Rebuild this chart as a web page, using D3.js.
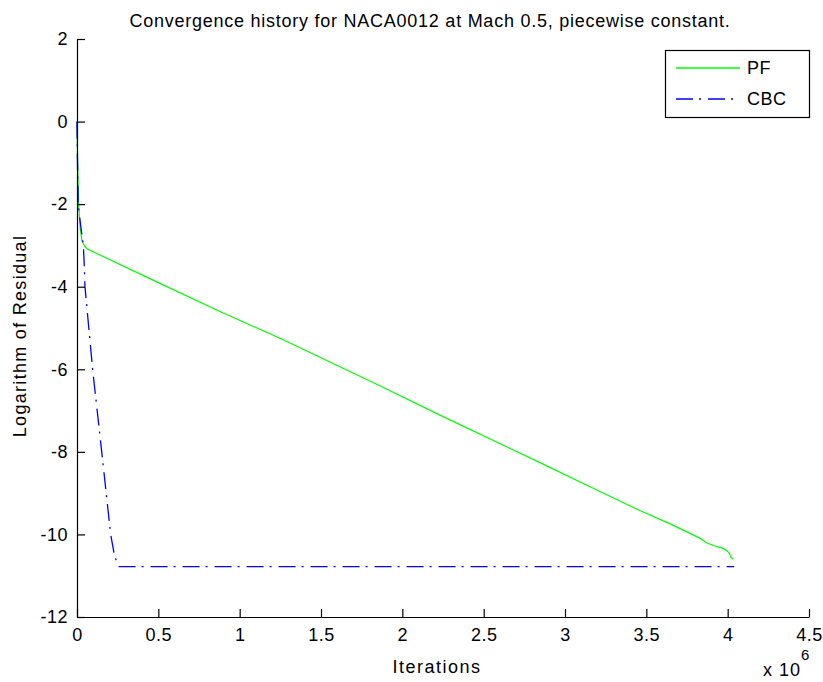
<!DOCTYPE html>
<html>
<head>
<meta charset="utf-8">
<script src="https://cdn.jsdelivr.net/npm/d3@7"></script>
<style>
  body { margin: 0; background: #fff; }
  text { font-family: "Liberation Sans", Arial, Helvetica, sans-serif; fill: #000; }
  .axis path, .axis line { stroke: #000; }
</style>
</head>
<body>
<svg width="823" height="682"></svg>
<script>
// iterations in millions, log10 residual
var pfIter = [0, 0.004, 0.01, 0.02, 0.03, 0.045, 0.06, 0.5, 0.879, 1.248, 1.862, 2.231, 2.846, 3.215, 3.46, 3.65, 3.829, 3.87, 3.92, 3.96, 3.99, 4.01, 4.02, 4.034];
var pfRes  = [0, -1.0, -2.0, -2.6, -2.88, -3.0, -3.08, -3.9, -4.6, -5.25, -6.4, -7.11, -8.26, -8.96, -9.42, -9.75, -10.09, -10.2, -10.28, -10.32, -10.38, -10.45, -10.55, -10.6];

var cbcIter = [0, 0.003, 0.007, 0.022, 0.039, 0.045, 0.049, 0.096, 0.152, 0.207, 0.23, 0.254, 4.04];
var cbcRes  = [0, -1, -2, -2.5, -3.0, -3.5, -4, -6, -8, -10, -10.5, -10.78, -10.78];

var xTicks = [0, 0.5, 1, 1.5, 2, 2.5, 3, 3.5, 4, 4.5];
var yTicks = [-12, -10, -8, -6, -4, -2, 0, 2];

var svg = d3.select("svg"),
    margin = {top: 39, right: 14, bottom: 65, left: 77},
    width = +svg.attr("width") - margin.left - margin.right,
    height = +svg.attr("height") - margin.top - margin.bottom;

var x = d3.scaleLinear().domain([0, 4.5]).range([0, width]);
var y = d3.scaleLinear().domain([-12, 2]).range([height, 0]);

var line = d3.line()
  .x(function(d) { return x(d[0]); })
  .y(function(d) { return y(d[1]); });

var pf = pfIter.map(function(v, i) { return [v, pfRes[i]]; });
var cbc = cbcIter.map(function(v, i) { return [v, cbcRes[i]]; });

var g = svg.append("g")
  .attr("transform", "translate(" + margin.left + "," + margin.top + ")");

g.append("path")
  .datum(pf)
  .attr("fill", "none")
  .attr("stroke", "#00ff00")
  .attr("stroke-width", 1.2)
  .attr("d", line);

g.append("path")
  .datum(cbc)
  .attr("fill", "none")
  .attr("stroke", "#0000ff")
  .attr("stroke-width", 1.3)
  .attr("stroke-dasharray", "17,6,2,7")
  .attr("d", line);

g.append("g")
    .attr("class", "axis")
    .attr("transform", "translate(0," + height + ")")
    .call(d3.axisBottom(x).tickValues(xTicks).tickFormat(function(d) { return String(d); })
      .tickSizeInner(-8).tickSizeOuter(0).tickPadding(11))
    .selectAll("text").style("font-size", "18px").style("letter-spacing", "0.5px");

g.append("g")
    .attr("class", "axis")
    .call(d3.axisLeft(y).tickValues(yTicks).tickFormat(function(d) { return String(d); })
      .tickSizeInner(-8).tickSizeOuter(0).tickPadding(9))
    .selectAll("text").style("font-size", "18px").style("letter-spacing", "0.5px");

svg.selectAll(".axis path, .axis line").attr("stroke-width", 1.2);

svg.append("text")
  .attr("x", 430)
  .attr("y", 27)
  .attr("text-anchor", "middle")
  .style("font-size", "18px")
  .style("letter-spacing", "0.75px")
  .text("Convergence history for NACA0012 at Mach 0.5, piecewise constant.");

svg.append("text")
  .attr("transform", "translate(26,336) rotate(-90)")
  .attr("text-anchor", "middle")
  .style("font-size", "18px")
  .style("letter-spacing", "1.3px")
  .text("Logarithm of Residual");

svg.append("text")
  .attr("x", 437)
  .attr("y", 673)
  .attr("text-anchor", "middle")
  .style("font-size", "18px")
  .style("letter-spacing", "1.5px")
  .text("Iterations");

var mult = svg.append("text")
  .attr("x", 763)
  .attr("y", 676)
  .style("font-size", "18px")
  .style("letter-spacing", "1px");
mult.append("tspan").text("x 10");
mult.append("tspan").attr("dy", -16).style("font-size", "15px").text("6");

// legend
var legend = svg.append("g");
legend.append("rect")
  .attr("x", 665.5).attr("y", 50.5)
  .attr("width", 144).attr("height", 67)
  .attr("fill", "#fff").attr("stroke", "#000").attr("stroke-width", 1.2);

var items = [
  {name: "PF", color: "#00ff00", dash: null, y: 68},
  {name: "CBC", color: "#0000ff", dash: "17,6,2,7", y: 99}
];
items.forEach(function(it) {
  legend.append("line")
    .attr("x1", 676).attr("x2", 740)
    .attr("y1", it.y).attr("y2", it.y)
    .attr("stroke", it.color).attr("stroke-width", 1.3)
    .attr("stroke-dasharray", it.dash);
  legend.append("text")
    .attr("x", 747).attr("y", it.y)
    .attr("dy", "0.36em")
    .style("font-size", "18px")
    .style("letter-spacing", "0.5px")
    .text(it.name);
});
</script>
</body>
</html>
